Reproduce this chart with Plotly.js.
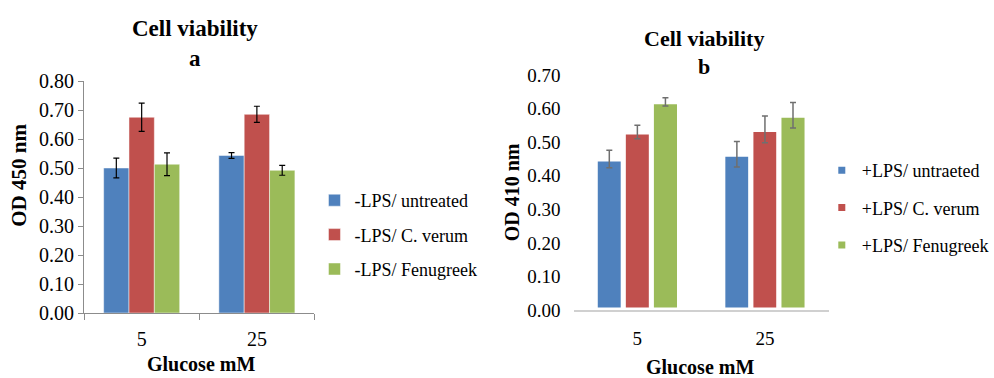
<!DOCTYPE html>
<html>
<head>
<meta charset="utf-8">
<script src="https://cdn.plot.ly/plotly-3.0.1.min.js"></script>
</head>
<body style="margin:0;padding:0;">
<div id="chart"></div>
<script>
const categories = ['5', '25'];

const seriesNamesA = ['-LPS/ untreated', '-LPS/ C. verum', '-LPS/ Fenugreek'];
const aUntreated = [0.500, 0.543];
const aUntreatedErr = [0.034, 0.010];
const aCverum = [0.675, 0.685];
const aCverumErr = [0.049, 0.028];
const aFenugreek = [0.513, 0.492];
const aFenugreekErr = [0.039, 0.017];

const seriesNamesB = ['+LPS/ untraeted', '+LPS/ C. verum', '+LPS/ Fenugreek'];
const bUntreated = [0.450, 0.464];
const bUntreatedErr = [0.026, 0.038];
const bCverum = [0.530, 0.538];
const bCverumErr = [0.020, 0.040];
const bFenugreek = [0.620, 0.580];
const bFenugreekErr = [0.012, 0.038];

const yTicksA = [0, 0.1, 0.2, 0.3, 0.4, 0.5, 0.6, 0.7, 0.8];
const yTicksB = [0, 0.1, 0.2, 0.3, 0.4, 0.5, 0.6, 0.7];

const colors = ['#4F81BD', '#C0504D', '#9BBB59'];
const FONT = 'Times New Roman';

function barA(name, y, err, i) {
  return {
    type: 'bar', x: categories, y: y, name: name,
    xaxis: 'x', yaxis: 'y', legend: 'legend', legendgroup: 'a' + i,
    marker: {color: colors[i], line: {color: 'rgba(255,255,255,0.6)', width: 0.8}},
    error_y: {type: 'data', array: err, visible: true, color: '#000000', thickness: 1.2, width: 3}
  };
}
function barB(name, y, err, i) {
  return {
    type: 'bar', x: categories, y: y, name: name,
    xaxis: 'x2', yaxis: 'y2', legend: 'legend2', legendgroup: 'b' + i,
    marker: {color: colors[i], line: {color: '#ffffff', width: 5}},
    error_y: {type: 'data', array: err, visible: true, color: '#6f6f6f', thickness: 1.5, width: 3}
  };
}

const traces = [
  barA(seriesNamesA[0], aUntreated, aUntreatedErr, 0),
  barA(seriesNamesA[1], aCverum, aCverumErr, 1),
  barA(seriesNamesA[2], aFenugreek, aFenugreekErr, 2),
  barB(seriesNamesB[0], bUntreated, bUntreatedErr, 0),
  barB(seriesNamesB[1], bCverum, bCverumErr, 1),
  barB(seriesNamesB[2], bFenugreek, bFenugreekErr, 2)
];

const W = 994, H = 378;
const px = v => v / W;
const py = v => 1 - v / H;

function ann(text, x, y, size, angle) {
  return {text: text, x: px(x), y: py(y), xref: 'paper', yref: 'paper', xanchor: 'center', yanchor: 'middle',
          textangle: angle || 0, showarrow: false, font: {family: FONT, size: size, color: '#000'}};
}

const chartLayout = {
  width: W, height: H,
  margin: {l: 0, r: 0, t: 0, b: 0},
  paper_bgcolor: '#ffffff', plot_bgcolor: '#ffffff',
  barmode: 'group', bargap: 0.34, bargroupgap: 0,
  showlegend: true,
  xaxis: {
    domain: [px(85), px(318)], anchor: 'y', type: 'category',
    showline: true, linecolor: '#8c8c8c', linewidth: 1,
    ticks: 'outside', tickson: 'boundaries', ticklen: 6, tickcolor: '#8c8c8c',
    tickfont: {family: FONT, size: 20, color: '#000'}, ticklabelstandoff: 8,
    showgrid: false, zeroline: false, fixedrange: true
  },
  yaxis: {
    domain: [py(313), py(81)], anchor: 'x', range: [0, 0.8],
    tickvals: yTicksA, tickformat: '.2f',
    showline: true, linecolor: '#8c8c8c', linewidth: 1,
    ticks: 'outside', ticklen: 5, tickcolor: '#8c8c8c',
    tickfont: {family: FONT, size: 20, color: '#000'},
    showgrid: false, zeroline: false, fixedrange: true
  },
  xaxis2: {
    domain: [px(580), px(838)], anchor: 'y2', type: 'category',
    showline: true, linecolor: '#d0d0d0', linewidth: 1.5,
    ticks: '', tickfont: {family: FONT, size: 19, color: '#000'}, ticklabelstandoff: 10,
    showgrid: false, zeroline: false, fixedrange: true
  },
  yaxis2: {
    domain: [py(310), py(75)], anchor: 'x2', range: [0, 0.7],
    tickvals: yTicksB, tickformat: '.2f',
    showline: false, ticks: '', ticklabelstandoff: 12,
    tickfont: {family: FONT, size: 19, color: '#000'},
    showgrid: false, zeroline: false, fixedrange: true
  },
  legend: {
    x: px(318), y: py(182), xanchor: 'left', yanchor: 'top',
    font: {family: FONT, size: 18, color: '#000'},
    bgcolor: 'rgba(0,0,0,0)', tracegroupgap: 8
  },
  legend2: {
    x: px(831), y: py(152), xanchor: 'left', yanchor: 'top',
    font: {family: FONT, size: 18, color: '#000'},
    bgcolor: 'rgba(0,0,0,0)', tracegroupgap: 11
  },
  annotations: [
    ann('<b>Cell viability</b>', 197, 28, 23),
    ann('<b>a</b>', 197, 58, 23),
    ann('<b>OD 450 nm</b>', 19, 175, 21, -90),
    ann('<b>Glucose mM</b>', 203, 364, 20),
    ann('<b>Cell viability</b>', 712, 39, 22),
    ann('<b>b</b>', 712, 66, 22),
    ann('<b>OD 410 nm</b>', 518, 192, 20, -90),
    ann('<b>Glucose mM</b>', 708, 367, 20)
  ]
};

Plotly.newPlot('chart', traces, chartLayout, {displayModeBar: false});
</script>
</body>
</html>
